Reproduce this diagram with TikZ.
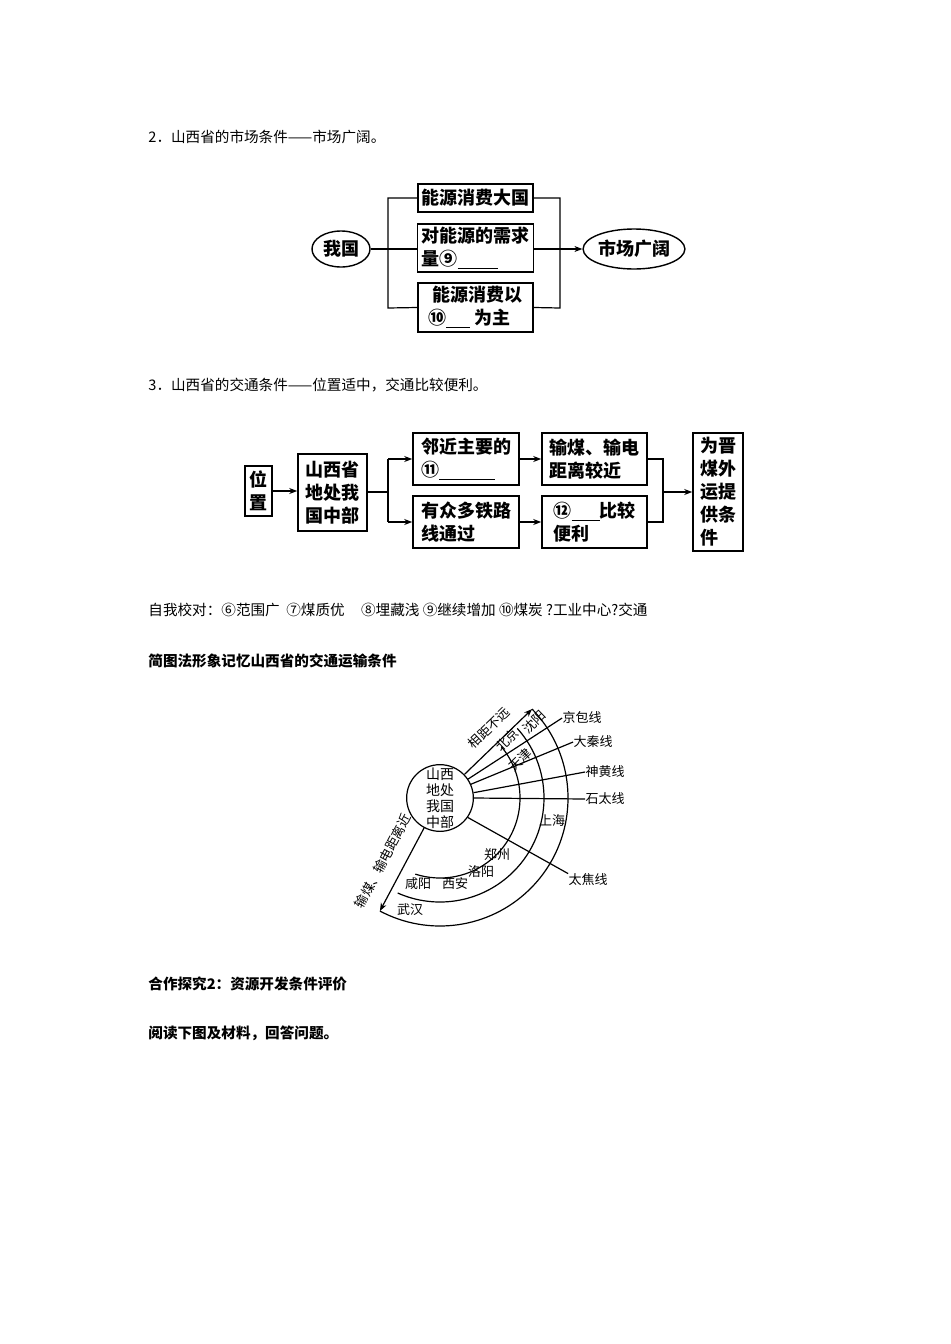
\documentclass[tikz,border=0pt]{standalone}
\usepackage{fontspec}
\setmainfont{Noto Sans CJK SC}
\usetikzlibrary{arrows.meta,shapes.geometric}
\begin{document}
\begin{tikzpicture}[x=0.5pt,y=-0.5pt,
  every node/.style={inner sep=0pt},
  pagetxt/.style={anchor=west,font=\fontsize{7.3pt}{9pt}\selectfont},
  pagebold/.style={anchor=west,font=\fontsize{7.3pt}{9pt}\selectfont\bfseries},
  bx/.style={draw,line width=0.8pt,font=\fontsize{9pt}{11.5pt}\selectfont\bfseries,align=left},
  el/.style={draw,ellipse,line width=0.7pt,font=\fontsize{9pt}{11pt}\selectfont\bfseries},
  ln/.style={line width=0.6pt},
  ar/.style={line width=0.6pt,-{Stealth[length=4pt,width=3pt]}},
  sm/.style={font=\fontsize{6.5pt}{8pt}\selectfont}]
\useasboundingbox (0,0) rectangle (950,1344);
% page text
\node[pagetxt] (t1) at (148,137) {2．山西省的市场条件——市场广阔。};
\node[pagetxt] (t2) at (148,385) {3．山西省的交通条件——位置适中，交通比较便利。};
\node[pagetxt] (t3) at (148,610) {自我校对：⑥范围广\ \ ⑦煤质优\ \ \ \ \ ⑧埋藏浅\ ⑨继续增加\ ⑩煤炭\ ?工业中心?交通};
\node[pagebold] (t4) at (148,661) {简图法形象记忆山西省的交通运输条件};
\node[pagebold] (t5) at (148,984) {合作探究2：资源开发条件评价};
\node[pagebold] (t6) at (148,1033) {阅读下图及材料，回答问题。};
% diagram 1
\node[el,minimum width=29pt,minimum height=18pt] (wg) at (341,249) {我国};
\node[el,minimum width=45pt,minimum height=20pt] (sc) at (634,249) {市场广阔};
\node[bx,minimum width=57.5pt,minimum height=14pt,align=center] (b1) at (475.5,198) {能源消费大国};
\node[bx,minimum width=57.5pt,minimum height=24pt,inner xsep=2pt] (b2) at (475.5,248) {对能源的需求\\量⑨\underline{\hspace{20pt}}};
\node[bx,minimum width=57.5pt,minimum height=24.5pt,inner xsep=2pt] (b3) at (475.5,307.5) {\ 能源消费以\\⑩\underline{\hspace{12pt}}\ 为主};
\coordinate (l1) at (388,198); \coordinate (l3) at (388,308);
\coordinate (r1) at (560,198); \coordinate (r3) at (560,308); \coordinate (r2) at (560,249);
\draw[ln] (b1.west) -- (l1) -- (l3) -- (b3.west);
\draw[ln] (wg.east) -- (b2.west |- wg.east);
\draw[ln] (b1.east) -- (r1) -- (r3) -- (b3.east);
\draw[ln] (b2.east |- r2) -- (r2);
\draw[ar] (r2) -- (sc.west);
% diagram 2
\node[bx,minimum width=13.5pt,minimum height=25pt,align=center] (wz) at (258.5,491) {位\\置};
\node[bx,minimum width=34.5pt,minimum height=38.5pt,align=center] (sx) at (332.5,492.5) {山西省\\地处我\\国中部};
\node[bx,minimum width=53pt,minimum height=26pt,inner xsep=3pt] (c1) at (466,459) {邻近主要的\\⑪\underline{\hspace{28pt}}};
\node[bx,minimum width=53pt,minimum height=26pt,inner xsep=3pt] (c2) at (466,522) {有众多铁路\\线通过};
\node[bx,minimum width=52.5pt,minimum height=26pt,inner xsep=3pt] (d1) at (594.5,459) {输煤、输电\\距离较近};
\node[bx,minimum width=52.5pt,minimum height=26pt,inner xsep=3pt] (d2) at (594.5,522) {⑫\underline{\hspace{14pt}}比较\\便利};
\node[bx,minimum width=25pt,minimum height=59pt,align=left,inner xsep=2pt] (e) at (718,492) {为晋\\煤外\\运提\\供条\\件};
\draw[ar] (wz.east) -- (sx.west |- wz.east);
\coordinate (m) at (388,492); \coordinate (m1) at (388,459); \coordinate (m2) at (388,522);
\draw[ln] (sx.east |- m) -- (m);
\draw[ln] (m1) -- (m2);
\draw[ar] (m1) -- (c1.west);
\draw[ar] (m2) -- (c2.west);
\draw[ar] (c1.east) -- (d1.west);
\draw[ar] (c2.east) -- (d2.west);
\coordinate (n) at (663,492); \coordinate (n1) at (663,459); \coordinate (n2) at (663,522);
\draw[ln] (d1.east) -- (n1) -- (n2) -- (d2.east);
\draw[ar] (n) -- (e.west |- n);
% diagram 3
\node[draw,circle,line width=0.6pt,minimum size=32pt,align=center,font=\fontsize{7pt}{8pt}\selectfont] (ctr) at (440,798) {山西\\地处\\我国\\中部};
\draw[ln] ([shift={(-40:80)}]440,798) arc[start angle=-40,end angle=108,radius=80];
\draw[ln] ([shift={(-42:104)}]440,798) arc[start angle=-42,end angle=114,radius=104];
\coordinate (tp) at ([shift={(-44:128)}]440,798);
\coordinate (bt) at ([shift={(118:128)}]440,798);
\draw[ln] (tp) arc[start angle=-44,end angle=118,radius=128];
\draw[ar] (ctr.44) -- (tp);
\draw[ar] (ctr.242) -- (bt);
\node[sm] (jb) at (582,718) {京包线};
\node[sm] (dq) at (593,742) {大秦线};
\node[sm] (sh) at (605,772) {神黄线};
\node[sm] (st) at (605,799) {石太线};
\node[sm] (tj) at (588,880) {太焦线};
\draw[ln] (ctr.34) -- (jb.west);
\draw[ln] (ctr.24) -- (dq.west);
\draw[ln] (ctr.9) -- (sh.west);
\draw[ln] (ctr.0) -- (st.west);
\draw[ln] (ctr.-35) -- (tj.north west);
\node[sm] (shh) at (552,820) {上海};
\node[sm] (zz) at (497,855) {郑州};
\node[sm] (ly) at (481,872) {洛阳};
\node[sm] (xa) at (455,884) {西安};
\node[sm] (xy) at (418,884) {咸阳};
\node[sm] (wh) at (410,910) {武汉};
\node[sm,rotate=44] (sy) at (534,722) {沈阳};
\node[sm,rotate=44] (bj) at (507,740) {北京};
\node[sm,rotate=44] (tjn) at (520,760) {天津};
\node[sm,rotate=44] (xj) at (489,728) {相距不远};
\node[sm,rotate=62] (sm1) at (383,861) {输煤、输电距离近};
\end{tikzpicture}
\end{document}
